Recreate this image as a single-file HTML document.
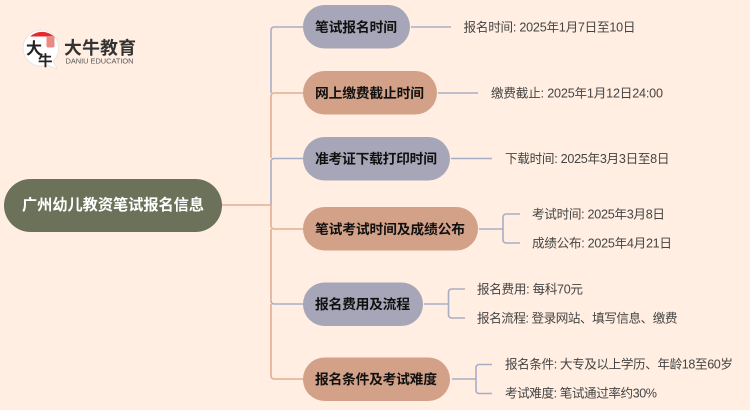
<!DOCTYPE html>
<html lang="zh"><head><meta charset="utf-8"><style>
html,body{margin:0;padding:0;background:#FFEEE1;width:750px;height:410px;overflow:hidden}
svg{display:block}
text{font-family:"Liberation Sans","Noto Sans CJK SC",sans-serif}
.n{font-size:13.8px;font-weight:700;fill:#111}
.s{font-size:12.6px;fill:#444}
.g{fill:none;stroke:#A8ADC6;stroke-width:1.6}
.b{fill:none;stroke:#E2AE92;stroke-width:1.6}
</style></head><body>
<svg width="750" height="410" viewBox="0 0 750 410" xmlns="http://www.w3.org/2000/svg">
<rect width="750" height="410" fill="#FFEEE1"/>
<!-- logo -->
<path d="M42 30a18 18 0 1 0 5 35l10 4-4-8a18 18 0 0 0-11-31z" fill="#fff" stroke="#ddd" stroke-width=".6"/>
<path d="M30 36.500a18 18 0 0 1 24 0z" fill="#E8292C"/>
<rect x="46.500" y="36" width="8" height="11.500" rx="1.500" fill="#E98A86"/>
<text x="26" y="54" font-size="16" font-weight="700" fill="#222">大</text>
<text x="38" y="66" font-size="14.500" font-weight="700" fill="#222">牛</text>
<text x="64" y="54" font-size="17.800" font-weight="700" fill="#333" textLength="72" lengthAdjust="spacing">大牛教育</text>
<text x="65.500" y="63.500" font-size="7.400" fill="#555" textLength="68" lengthAdjust="spacingAndGlyphs">DANIU EDUCATION</text>
<!-- main connectors -->
<path class="g" d="M303 27H274a3 3 0 0 0-3 3V93"/>
<path class="b" d="M303 93H274a3 3 0 0 0-3 3V158"/>
<path class="g" d="M303 158.500H274a3 3 0 0 0-3 3V205"/>
<path class="b" d="M222 205H271"/>
<path class="b" d="M271 205V226a3 3 0 0 0 3 3H303"/>
<path class="b" d="M271 229V301"/>
<path class="g" d="M271 301a3 3 0 0 0 3 3H303"/>
<path class="b" d="M271 304V376a3 3 0 0 0 3 3H303"/>
<!-- nodes -->
<rect x="4" y="179" width="218" height="53" rx="26.500" fill="#6B7259"/>
<rect x="303" y="5" width="107" height="43.500" rx="21.700" fill="#A6A6B8"/>
<rect x="303" y="71" width="134" height="43.500" rx="21.700" fill="#D2A188"/>
<rect x="303" y="137" width="147" height="43.500" rx="21.700" fill="#A6A6B8"/>
<rect x="303" y="207" width="175" height="43.500" rx="21.700" fill="#D2A188"/>
<rect x="303" y="282.500" width="120" height="43.500" rx="21.700" fill="#A6A6B8"/>
<rect x="303" y="357.500" width="147" height="43.500" rx="21.700" fill="#D2A188"/>
<text x="22" y="210" font-size="15.200" font-weight="700" fill="#fff" textLength="182" lengthAdjust="spacing">广州幼儿教资笔试报名信息</text>
<text class="n" x="315" y="32" textLength="82" lengthAdjust="spacing">笔试报名时间</text>
<text class="n" x="315" y="98" textLength="109" lengthAdjust="spacing">网上缴费截止时间</text>
<text class="n" x="315" y="163.500" textLength="122" lengthAdjust="spacing">准考证下载打印时间</text>
<text class="n" x="315" y="234" textLength="150" lengthAdjust="spacing">笔试考试时间及成绩公布</text>
<text class="n" x="315" y="309" textLength="95" lengthAdjust="spacing">报名费用及流程</text>
<text class="n" x="315" y="384" textLength="122" lengthAdjust="spacing">报名条件及考试难度</text>
<!-- sub connectors -->
<path class="g" d="M411 27H451M438 93H478M451 158.500H492"/>
<path class="g" d="M479 229H503M520 214H506a3 3 0 0 0-3 3V240a3 3 0 0 0 3 3H520"/>
<path class="g" d="M424 304H448.500M465 289H451.500a3 3 0 0 0-3 3V315a3 3 0 0 0 3 3H465"/>
<path class="g" d="M452 379H476M492 364.500H479a3 3 0 0 0-3 3V390.500a3 3 0 0 0 3 3H492"/>
<!-- sub labels -->
<text class="s" x="463.500" y="31.500" textLength="172" lengthAdjust="spacing">报名时间: 2025年1月7日至10日</text>
<text class="s" x="491" y="97.500" textLength="172" lengthAdjust="spacing">缴费截止: 2025年1月12日24:00</text>
<text class="s" x="505" y="163" textLength="164.500" lengthAdjust="spacing">下载时间: 2025年3月3日至8日</text>
<text class="s" x="532" y="218.500" textLength="133" lengthAdjust="spacing">考试时间: 2025年3月8日</text>
<text class="s" x="532" y="247.500" textLength="140" lengthAdjust="spacing">成绩公布: 2025年4月21日</text>
<text class="s" x="477" y="293.500" textLength="106" lengthAdjust="spacing">报名费用: 每科70元</text>
<text class="s" x="477" y="322.500" textLength="200.500" lengthAdjust="spacing">报名流程: 登录网站、填写信息、缴费</text>
<text class="s" x="505" y="368.500" textLength="228" lengthAdjust="spacing">报名条件: 大专及以上学历、年龄18至60岁</text>
<text class="s" x="505" y="397.500" textLength="152" lengthAdjust="spacing">考试难度: 笔试通过率约30%</text>
</svg>
</body></html>
